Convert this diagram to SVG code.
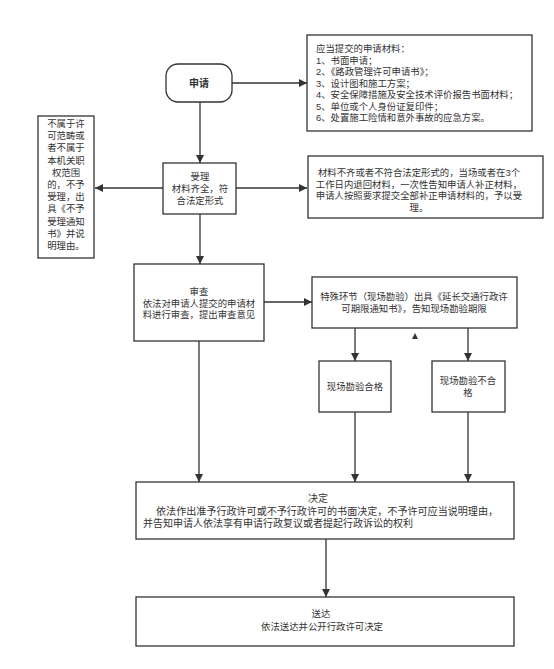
<svg xmlns="http://www.w3.org/2000/svg" width="554" height="669" viewBox="0 0 554 669">
<defs>
<style>
.box{fill:#fff;stroke:#333;stroke-width:1.3}
.t{font-family:"Liberation Sans","Noto Sans CJK SC",sans-serif;font-size:9.4px;fill:#333}
.c{text-anchor:middle}
.ln{fill:none;stroke:#333;stroke-width:1.3;marker-end:url(#ah)}
</style>
<marker id="ah" viewBox="0 0 10 10" refX="10" refY="5" markerWidth="8" markerHeight="8" markerUnits="userSpaceOnUse" orient="auto">
<path d="M0,0 L10,5 L0,10 Z" fill="#333"/>
</marker>
</defs>
<rect width="554" height="669" fill="#fff"/>
<g id="connectors">
<path class="ln" d="M232,83 L307,83"/>
<path class="ln" d="M200,102 L200,163"/>
<path class="ln" d="M163,188 L95,188"/>
<path class="ln" d="M236,188 L307,188"/>
<path class="ln" d="M200,214 L200,264"/>
<path class="ln" d="M264,302 L312,302"/>
<path class="ln" d="M355,328 L355,361"/>
<path class="ln" d="M468,328 L468,361"/>
<path class="ln" d="M199,338 L199,482"/>
<path class="ln" d="M355,412 L355,482"/>
<path class="ln" d="M468,412 L468,482"/>
<path class="ln" d="M326,539 L326,597"/>
<path d="M415,333 L418,339 L412,339 Z" fill="#333"/>
</g>
<g id="apply">
<rect class="box" x="166" y="64" width="66" height="38" rx="12"/>
<text class="t c" x="199" y="87" style="font-weight:bold;font-size:10px">申请</text>
</g>
<g id="materials">
<rect class="box" x="307" y="35" width="225" height="96"/>
<text class="t" y="52"><tspan x="316">应当提交的申请材料：</tspan><tspan x="316" dy="11.5">1、书面申请；</tspan><tspan x="316" dy="11.5">2、《路政管理许可申请书》；</tspan><tspan x="316" dy="11.5">3、设计图和施工方案；</tspan><tspan x="316" dy="11.5">4、安全保障措施及安全技术评价报告书面材料；</tspan><tspan x="316" dy="11.5">5、单位或个人身份证复印件；</tspan><tspan x="316" dy="11.5">6、处置施工险情和意外事故的应急方案。</tspan></text>
</g>
<g id="accept">
<rect class="box" x="163" y="163" width="73" height="51"/>
<text class="t c" y="180"><tspan x="200">受理</tspan><tspan x="200" dy="12">材料齐全，符</tspan><tspan x="200" dy="12">合法定形式</tspan></text>
</g>
<g id="reject">
<rect class="box" x="38" y="116" width="56" height="142"/>
<text class="t c" y="127"><tspan x="66">不属于许</tspan><tspan x="66" dy="12.2">可范畴或</tspan><tspan x="66" dy="12.2">者不属于</tspan><tspan x="66" dy="12.2">本机关职</tspan><tspan x="66" dy="12.2">权范围</tspan><tspan x="66" dy="12.2">的，不予</tspan><tspan x="66" dy="12.2">受理，出</tspan><tspan x="66" dy="12.2">具《不予</tspan><tspan x="66" dy="12.2">受理通知</tspan><tspan x="66" dy="12.2">书》并说</tspan><tspan x="66" dy="12.2">明理由。</tspan></text>
</g>
<g id="incomplete">
<rect class="box" x="308" y="156" width="235" height="62"/>
<text class="t c" y="176"><tspan x="419">材料不齐或者不符合法定形式的，当场或者在3个</tspan><tspan x="419" dy="11.5">工作日内退回材料，一次性告知申请人补正材料，</tspan><tspan x="419" dy="11.5">申请人按照要求提交全部补正申请材料的，予以受</tspan><tspan x="419" dy="11.5">理。</tspan></text>
</g>
<g id="review">
<rect class="box" x="134" y="264" width="130" height="77"/>
<text class="t c" y="295"><tspan x="199">审查</tspan><tspan x="199" dy="11.5">依法对申请人提交的申请材</tspan><tspan x="199" dy="11.5">料进行审查，提出审查意见</tspan></text>
</g>
<g id="special">
<rect class="box" x="312" y="277" width="205" height="51"/>
<text class="t c" y="300"><tspan x="414">特殊环节（现场勘验）出具《延长交通行政许</tspan><tspan x="414" dy="12">可期限通知书》，告知现场勘验期限</tspan></text>
</g>
<g id="pass">
<rect class="box" x="319" y="361" width="72" height="51"/>
<text class="t c" x="355" y="390">现场勘验合格</text>
</g>
<g id="fail">
<rect class="box" x="432" y="361" width="73" height="51"/>
<text class="t c" y="384"><tspan x="468">现场勘验不合</tspan><tspan x="468" dy="12">格</tspan></text>
</g>
<g id="decide">
<rect class="box" x="136" y="482" width="378" height="57"/>
<text class="t" y="502" style="font-size:10px"><tspan x="318" text-anchor="middle">决定</tspan><tspan x="146" dy="13" textLength="352" lengthAdjust="spacingAndGlyphs">　依法作出准予行政许可或不予行政许可的书面决定，不予许可应当说明理由，</tspan><tspan x="143" dy="11.5">并告知申请人依法享有申请行政复议或者提起行政诉讼的权利</tspan></text>
</g>
<g id="deliver">
<rect class="box" x="136" y="597" width="378" height="49"/>
<text class="t c" y="617"><tspan x="321">送达</tspan><tspan x="322" dy="13">依法送达并公开行政许可决定</tspan></text>
</g>
</svg>
